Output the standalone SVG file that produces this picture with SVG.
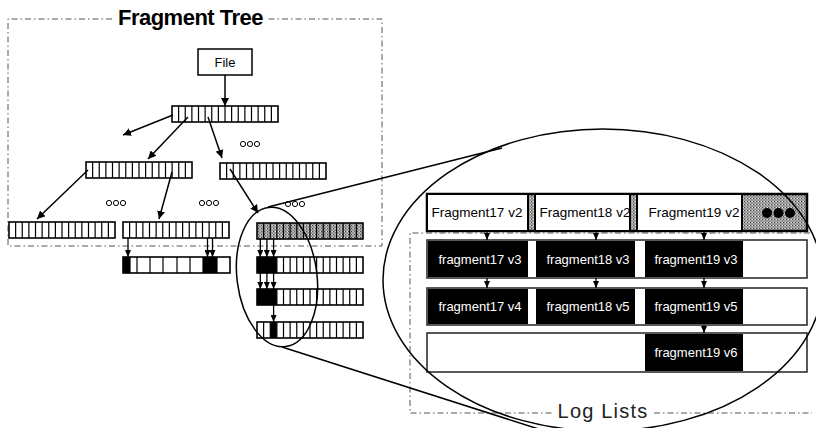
<svg xmlns="http://www.w3.org/2000/svg" xmlns:xlink="http://www.w3.org/1999/xlink" width="816" height="428" viewBox="0 0 816 428">
<style>
.frame{fill:none;stroke:#555;stroke-width:1;stroke-dasharray:6 3 1.5 3}
.arr{fill:#fff;stroke:#000;stroke-width:1.6}
.div{fill:none;stroke:#000;stroke-width:1.2}
.con{fill:none;stroke:#000;stroke-width:1.5}
.thin{fill:none;stroke:#000;stroke-width:1.3}
.dot{fill:#fff;stroke:#000;stroke-width:1}
.lbl{font-family:"Liberation Sans",Arial,sans-serif;text-anchor:middle}
.wt{fill:#fff;font-size:13px}
.bt{fill:#000;font-size:13.5px}
.row{fill:#fff;stroke:#222;stroke-width:1.5}
.blk{fill:#000}
</style>
<defs>
<pattern id="stip" patternUnits="userSpaceOnUse" width="3" height="3">
<rect width="3" height="3" fill="#a8a8a8"/>
<rect x="0" y="0" width="1" height="1" fill="#444"/>
<rect x="1.5" y="1.5" width="1" height="1" fill="#666"/>
<rect x="2" y="0" width="1" height="1" fill="#ddd"/>
</pattern>
<marker id="ah" markerUnits="userSpaceOnUse" markerWidth="8" markerHeight="8" refX="8" refY="4" orient="auto">
<path d="M0,0 L8,4 L0,8 z" fill="#000"/>
</marker>
<marker id="as" markerUnits="userSpaceOnUse" markerWidth="7" markerHeight="6" refX="7" refY="3" orient="auto">
<path d="M0,0 L7,3 L0,6 z" fill="#000"/>
</marker>
<path id="div" class="div" d="M6.625 0v16M13.25 0v16M19.875 0v16M26.5 0v16M33.125 0v16M39.75 0v16M46.375 0v16M53 0v16M59.625 0v16M66.25 0v16M72.875 0v16M79.5 0v16M86.125 0v16M92.75 0v16M99.375 0v16"/>
<g id="arr">
<rect class="arr" width="106" height="16"/>
<use xlink:href="#div"/>
</g>
</defs>

<!-- frames -->
<g id="fragment-tree-frame">
<path class="frame" d="M112 19H8V246H382V19H268"/>
<text class="lbl" x="190.5" y="25" font-size="22" font-weight="bold" letter-spacing="-0.5">Fragment Tree</text>
</g>
<g id="log-lists-frame">
<path class="frame" d="M810 233H410V413H552M654 413H812"/>
<text class="lbl" x="603" y="418" font-size="20" letter-spacing="1.2" fill="#222">Log Lists</text>
</g>

<!-- tree nodes -->
<g id="file">
<rect x="198" y="49" width="54" height="26" fill="#fff" stroke="#000" stroke-width="1.5"/>
<text class="lbl" x="225" y="67" font-size="13">File</text>
</g>
<g id="root"><use xlink:href="#arr" x="172" y="106"/></g>
<g id="l2-left"><use xlink:href="#arr" x="86" y="162"/></g>
<g id="l2-right"><use xlink:href="#arr" x="220" y="163"/></g>
<g id="l3-a"><use xlink:href="#arr" x="9" y="222"/></g>
<g id="l3-b"><use xlink:href="#arr" x="123" y="222"/></g>
<g id="l3-c">
<rect x="257" y="223" width="106" height="16" fill="url(#stip)" stroke="#000" stroke-width="1.6"/>
<use xlink:href="#div" x="257" y="223"/>
</g>
<g id="log-d">
<rect class="arr" x="123" y="257" width="107" height="16"/>
<rect class="blk" x="123" y="257" width="7" height="16"/>
<rect class="blk" x="203" y="257" width="14" height="16"/>
<path class="div" d="M130 257v16M137 257v16M150 257v16M163 257v16M177 257v16M190 257v16M203 257v16M217 257v16"/>
</g>
<g id="log-e">
<use xlink:href="#arr" x="257" y="257"/>
<rect class="blk" x="257" y="257" width="19.9" height="16"/>
</g>
<g id="log-f">
<use xlink:href="#arr" x="257" y="289"/>
<rect class="blk" x="257" y="289" width="19.9" height="16"/>
</g>
<g id="log-g">
<use xlink:href="#arr" x="257" y="322"/>
<rect class="blk" x="270.25" y="322" width="6.6" height="16"/>
</g>

<!-- ellipsis dots -->
<g id="dots">
<circle class="dot" cx="243" cy="144" r="2.6"/><circle class="dot" cx="250" cy="144" r="2.6"/><circle class="dot" cx="257" cy="144" r="2.6"/>
<circle class="dot" cx="109" cy="203" r="2.6"/><circle class="dot" cx="116" cy="203" r="2.6"/><circle class="dot" cx="123" cy="203" r="2.6"/>
<circle class="dot" cx="202" cy="203" r="2.6"/><circle class="dot" cx="209" cy="203" r="2.6"/><circle class="dot" cx="216" cy="203" r="2.6"/>
<circle class="dot" cx="288" cy="204" r="2.6"/><circle class="dot" cx="295" cy="204" r="2.6"/><circle class="dot" cx="302" cy="204" r="2.6"/>
</g>

<!-- log list rows -->
<g id="row-v2">
<rect x="427" y="194" width="380" height="37" fill="url(#stip)" stroke="#000" stroke-width="2.5"/>
<rect x="427" y="194" width="101" height="37" fill="#fff" stroke="#000" stroke-width="2"/>
<rect x="535" y="194" width="95" height="37" fill="#fff" stroke="#000" stroke-width="2"/>
<rect x="637" y="194" width="105" height="37" fill="#fff" stroke="#000" stroke-width="2"/>
<text class="lbl bt" x="477" y="217">Fragment17 v2</text>
<text class="lbl bt" x="585" y="217">Fragment18 v2</text>
<text class="lbl bt" x="694" y="217">Fragment19 v2</text>
<circle cx="767" cy="213" r="5" fill="#000"/><circle cx="778.5" cy="213" r="5" fill="#000"/><circle cx="790" cy="213" r="5" fill="#000"/>
</g>
<g id="row-v3">
<rect class="row" x="427" y="240" width="380" height="38"/>
<rect class="blk" x="428" y="241" width="100" height="36"/>
<rect class="blk" x="536" y="241" width="99" height="36"/>
<rect class="blk" x="645" y="241" width="98" height="36"/>
<text class="lbl wt" x="480" y="263.5">fragment17 v3</text>
<text class="lbl wt" x="588" y="263.5">fragment18 v3</text>
<text class="lbl wt" x="696" y="263.5">fragment19 v3</text>
</g>
<g id="row-v4">
<rect class="row" x="427" y="288" width="380" height="37"/>
<rect class="blk" x="428" y="289" width="100" height="35"/>
<rect class="blk" x="536" y="289" width="99" height="35"/>
<rect class="blk" x="645" y="289" width="98" height="35"/>
<text class="lbl wt" x="480" y="311">fragment17 v4</text>
<text class="lbl wt" x="588" y="311">fragment18 v5</text>
<text class="lbl wt" x="696" y="311">fragment19 v5</text>
</g>
<g id="row-v6">
<rect class="row" x="427" y="333" width="380" height="39"/>
<rect class="blk" x="645" y="334" width="98" height="37"/>
<text class="lbl wt" x="696" y="357">fragment19 v6</text>
</g>

<!-- connectors -->
<g id="connectors">
<line class="con" x1="225" y1="75" x2="225" y2="106" marker-end="url(#ah)"/>
<line class="con" x1="173" y1="115" x2="123" y2="135" marker-end="url(#ah)"/>
<line class="con" x1="188" y1="117" x2="148" y2="159" marker-end="url(#ah)"/>
<line class="con" x1="208" y1="117" x2="222" y2="158" marker-end="url(#ah)"/>
<line class="con" x1="88" y1="170" x2="37" y2="219" marker-end="url(#ah)"/>
<line class="con" x1="172" y1="172" x2="159" y2="219" marker-end="url(#ah)"/>
<line class="con" x1="230" y1="169" x2="258" y2="213" marker-end="url(#ah)"/>
<line class="thin" x1="128" y1="238" x2="128" y2="257" marker-end="url(#as)"/>
<line class="thin" x1="207.5" y1="238" x2="207.5" y2="257" marker-end="url(#as)"/>
<line class="thin" x1="212.5" y1="238" x2="212.5" y2="257" marker-end="url(#as)"/>
<line class="thin" x1="260.3" y1="239" x2="260.3" y2="257" marker-end="url(#as)"/>
<line class="thin" x1="266.9" y1="239" x2="266.9" y2="257" marker-end="url(#as)"/>
<line class="thin" x1="273.6" y1="239" x2="273.6" y2="257" marker-end="url(#as)"/>
<line class="thin" x1="260.3" y1="273" x2="260.3" y2="289" marker-end="url(#as)"/>
<line class="thin" x1="266.9" y1="273" x2="266.9" y2="289" marker-end="url(#as)"/>
<line class="thin" x1="273.6" y1="273" x2="273.6" y2="289" marker-end="url(#as)"/>
<line class="thin" x1="273.6" y1="305" x2="273.6" y2="322" marker-end="url(#as)"/>
<line class="thin" x1="487" y1="231" x2="487" y2="240" marker-end="url(#as)"/>
<line class="thin" x1="596" y1="231" x2="596" y2="240" marker-end="url(#as)"/>
<line class="thin" x1="704" y1="231" x2="704" y2="240" marker-end="url(#as)"/>
<line class="thin" x1="487" y1="278" x2="487" y2="288" marker-end="url(#as)"/>
<line class="thin" x1="596" y1="278" x2="596" y2="288" marker-end="url(#as)"/>
<line class="thin" x1="704" y1="278" x2="704" y2="288" marker-end="url(#as)"/>
<line class="thin" x1="704" y1="325" x2="704" y2="333" marker-end="url(#as)"/>
<!-- zoom ellipses and lines -->
<ellipse class="con" cx="277" cy="277" rx="40" ry="70" transform="rotate(-7 277 277)"/>
<ellipse class="con" cx="603" cy="280" rx="220" ry="151"/>
<line class="con" x1="268" y1="207" x2="502" y2="148"/>
<line class="con" x1="282" y1="347" x2="548" y2="432"/>
</g>
</svg>
